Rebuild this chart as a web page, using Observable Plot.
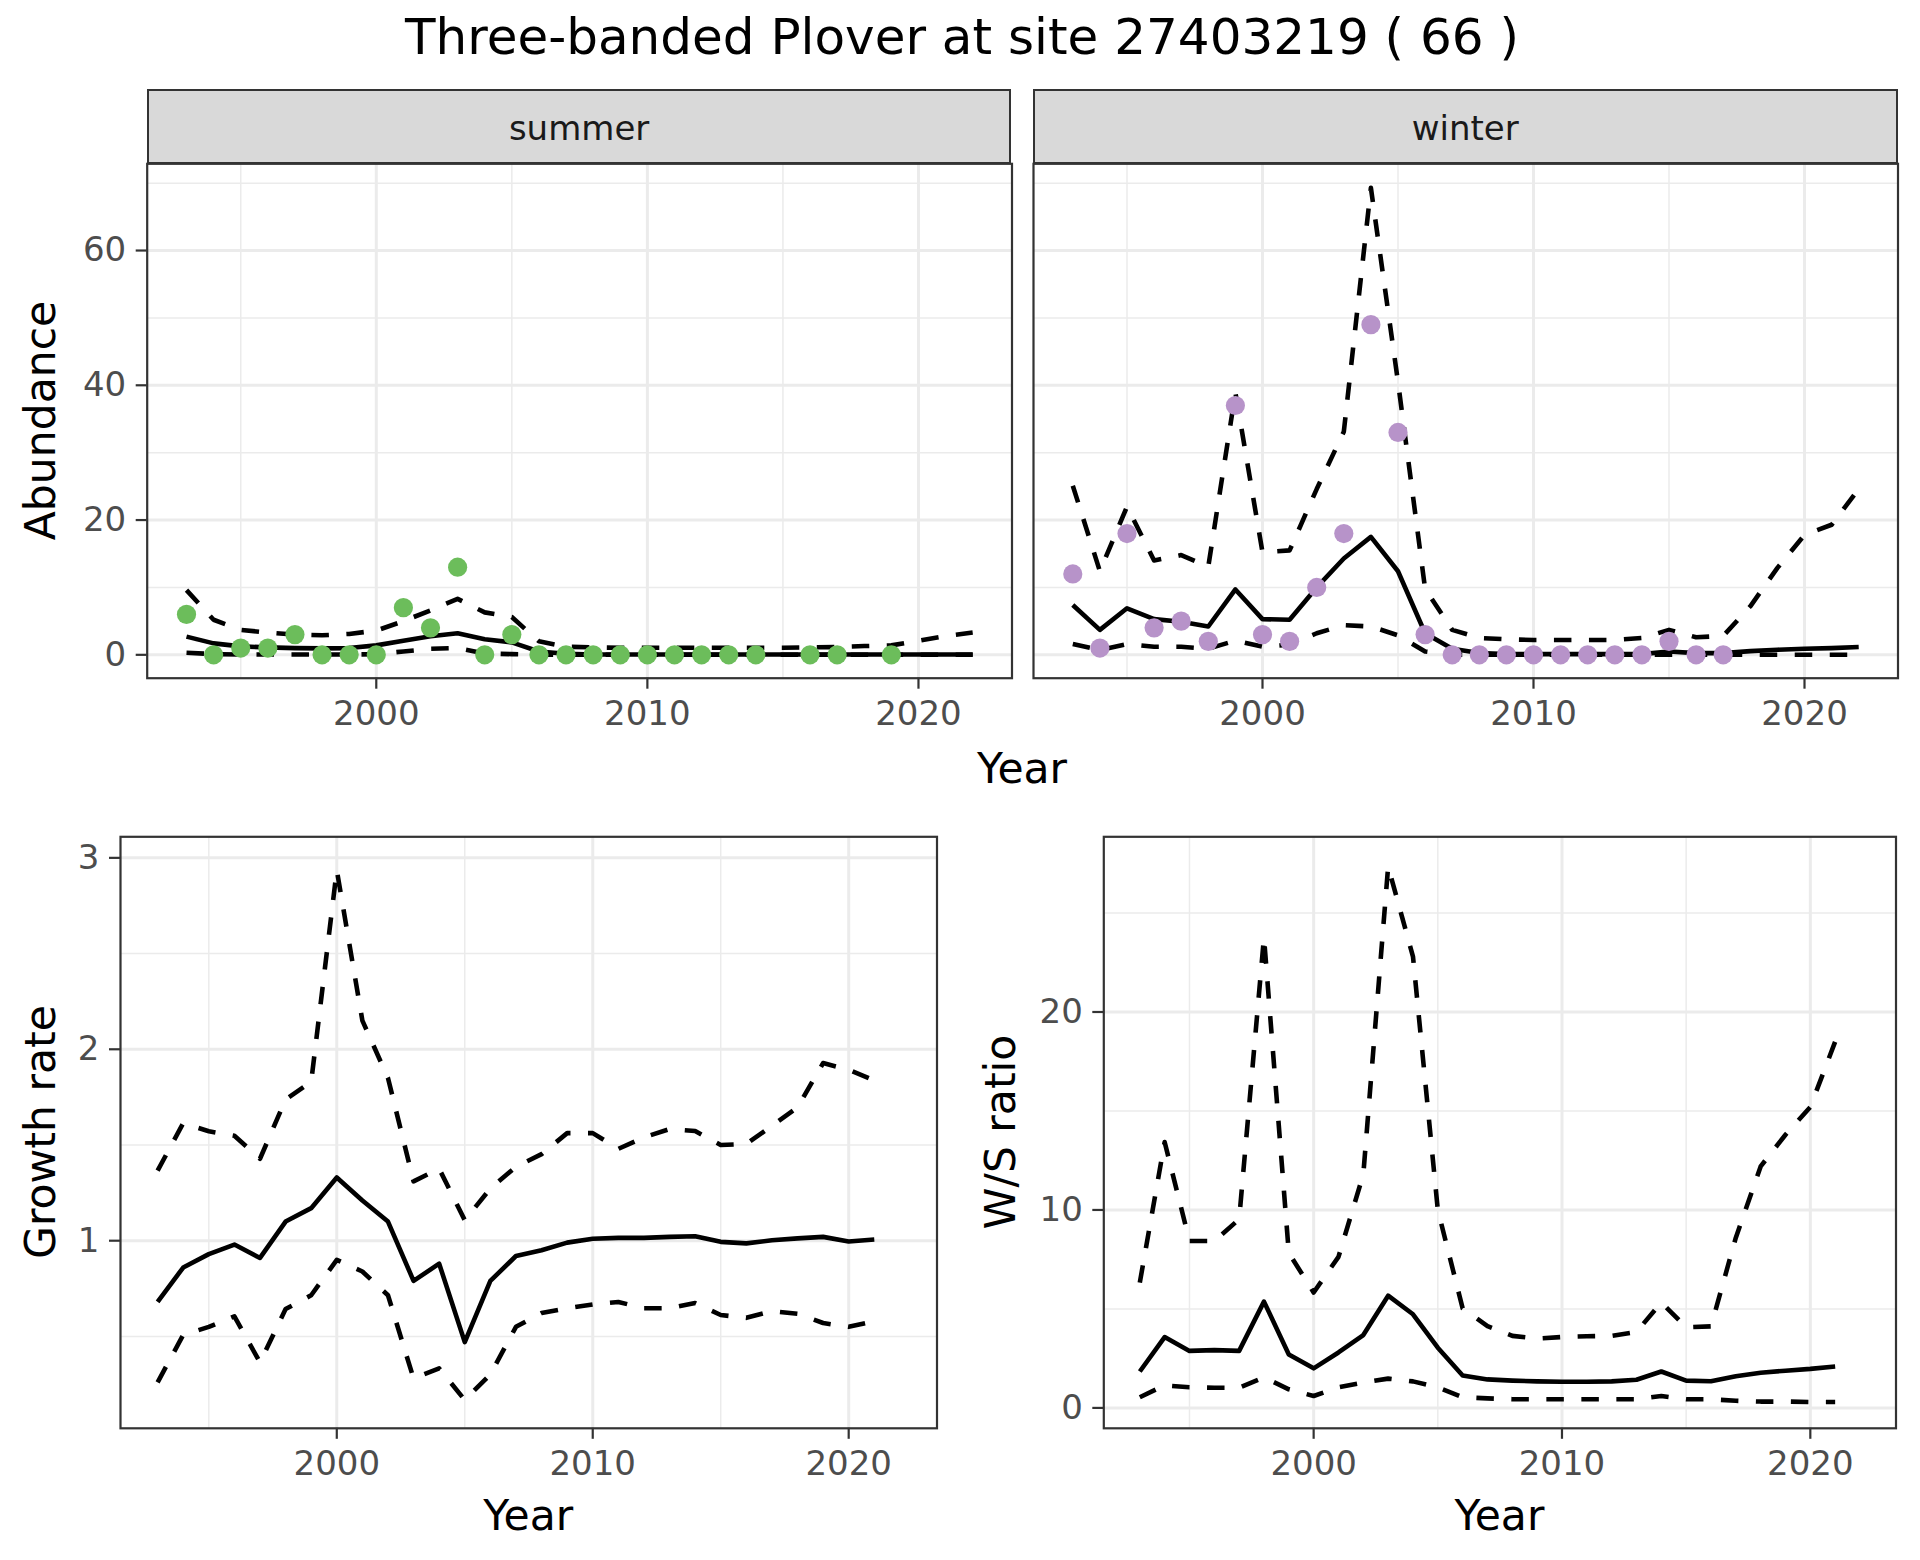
<!DOCTYPE html>
<html>
<head>
<meta charset="utf-8">
<script src="https://cdn.jsdelivr.net/npm/d3@7"></script>
<script src="https://cdn.jsdelivr.net/npm/@observablehq/plot@0.6"></script>
<style>
  html, body { margin: 0; padding: 0; background: #ffffff; }
  #root { position: relative; width: 1920px; height: 1560px; background: #ffffff; overflow: hidden; font-family: "DejaVu Sans", sans-serif; }
  .abs { position: absolute; left: 0; top: 0; }
  .txt { position: absolute; left: 0; top: 0; white-space: nowrap; line-height: 1; transform-origin: 0 0; font-family: "DejaVu Sans", sans-serif; }
  .strip { position: absolute; box-sizing: border-box; background: #D9D9D9; border: 2.2px solid #333333; }
</style>
</head>
<body>
<div id="root"></div>
<script>
// ---------------- data ----------------
const years = [1993,1994,1995,1996,1997,1998,1999,2000,2001,2002,2003,2004,2005,2006,2007,2008,2009,2010,2011,2012,2013,2014,2015,2016,2017,2018,2019,2020,2021,2022];
const ratioYears = [1993,1994,1995,1996,1997,1998,1999,2000,2001,2002,2003,2004,2005,2006,2007,2008,2009,2010,2011,2012,2013,2014,2015,2016,2017,2018,2019,2020,2021];

// Abundance, summer
const summerCounts = [6,0,1,1,3,0,0,0,7,4,13,0,3,0,0,0,0,0,0,0,0,0,null,0,0,null,0,null,null,null];
const summerMid    = [2.7,1.7,1.25,1.1,1.0,0.95,1.0,1.4,2.1,2.75,3.2,2.3,1.85,0.5,0.15,0.05,0.05,0.05,0.05,0.05,0.05,0.05,0.05,0.05,0.05,0.05,0.05,0.05,0.05,0.05];
const summerUpper  = [9.6,5.2,3.7,3.3,3.0,2.9,3.1,3.6,5.0,6.6,8.3,6.3,5.6,2.0,1.2,1.1,1.05,1.05,1.05,1.05,1.05,1.05,1.05,1.1,1.15,1.3,1.4,2.1,2.8,3.3];
const summerLower  = [0.3,0.1,0.05,0.05,0.05,0.05,0.05,0.1,0.5,0.9,1.0,0.2,0.1,0.02,0,0,0,0,0,0,0,0,0,0,0,0,0,0,0,0];

// Abundance, winter
const winterCounts = [12,1,18,4,5,2,37,3,2,10,18,49,33,3,0,0,0,0,0,0,0,0,2,0,0,null,null,null,null,null];
const winterMid    = [7.4,3.7,6.9,5.3,4.9,4.2,9.7,5.3,5.2,10.0,14.3,17.5,12.4,3.2,0.9,0.26,0.1,0.1,0.1,0.1,0.1,0.1,0.5,0.25,0.25,0.55,0.75,0.9,1.0,1.15];
const winterUpper  = [25.1,12.4,22.0,14.0,14.8,13.1,38.9,15.2,15.5,24.6,33.1,69.3,40.5,9.8,3.7,2.5,2.3,2.2,2.2,2.2,2.2,2.5,3.7,2.6,2.8,7.2,12.9,17.8,19.3,24.6];
const winterLower  = [1.6,0.7,1.6,1.2,1.2,0.9,2.1,1.2,1.5,3.2,4.4,4.2,2.9,0.5,0,0,0,0,0,0,0,0,0,0,0,0,0,0,0,0];

// Growth rate
const growthMid   = [0.68,0.86,0.93,0.98,0.91,1.10,1.17,1.33,1.21,1.10,0.79,0.88,0.47,0.79,0.92,0.95,0.99,1.01,1.015,1.015,1.02,1.023,0.994,0.986,1.002,1.012,1.02,0.996,1.006];
const growthUpper = [1.366,1.614,1.572,1.548,1.428,1.738,1.83,2.936,2.15,1.85,1.31,1.376,1.107,1.273,1.386,1.452,1.562,1.562,1.48,1.54,1.583,1.573,1.50,1.505,1.60,1.696,1.928,1.893,1.837];
const growthLower = [0.26,0.508,0.55,0.605,0.364,0.643,0.715,0.90,0.839,0.715,0.28,0.333,0.168,0.302,0.55,0.622,0.647,0.667,0.68,0.647,0.647,0.674,0.612,0.597,0.632,0.618,0.57,0.55,0.58];

// W/S ratio
const ratioMid   = [1.84,3.58,2.88,2.92,2.88,5.37,2.70,2.0,2.8,3.68,5.67,4.73,3.04,1.64,1.44,1.38,1.34,1.32,1.32,1.34,1.42,1.84,1.38,1.35,1.6,1.78,1.88,1.97,2.09];
const ratioUpper = [6.33,13.43,8.43,8.43,9.53,23.78,7.83,5.83,7.63,11.8,27.35,22.8,10.0,5.03,4.13,3.64,3.5,3.58,3.62,3.64,3.84,5.33,4.07,4.12,8.6,12.2,13.8,15.2,18.5];
const ratioLower = [0.54,1.14,1.04,1.02,1.02,1.54,0.94,0.6,1.04,1.28,1.48,1.34,1.04,0.54,0.48,0.44,0.44,0.44,0.44,0.44,0.44,0.6,0.44,0.44,0.36,0.32,0.32,0.3,0.3];

// ticks / breaks
const xMajor = [2000, 2010, 2020];
const xMinor = [1995, 2005, 2015];
const abundMajor = [0, 20, 40, 60];
const abundMinor = [10, 30, 50, 70];
const growthMajor = [1, 2, 3];
const growthMinor = [0.5, 1.5, 2.5];
const ratioMajor = [0, 10, 20];
const ratioMinor = [5, 15, 25];

const seasonNames = ["summer", "winter"];
const titleText = "Three-banded Plover at site 27403219 ( 66 )";

// ---------------- helpers ----------------
const root = document.getElementById("root");
const FONT = "DejaVu Sans";
const rows = (xs, ys) => xs.map((year, i) => ({year, value: ys[i]}));

function addText(str, {x, baseline, size, color = "#000000", rotate = false}) {
  const d = document.createElement("div");
  d.className = "txt";
  d.textContent = str;
  d.style.fontSize = size + "px";
  d.style.color = color;
  d.style.transform = `translate(${x}px, ${baseline}px)` + (rotate ? " rotate(-90deg)" : "") + " translate(-50%, -0.846em)";
  root.appendChild(d);
}

function addStrip(label, x0, x1, y0, y1) {
  const s = document.createElement("div");
  s.className = "strip";
  s.style.left = x0 + "px"; s.style.top = y0 + "px";
  s.style.width = (x1 - x0) + "px"; s.style.height = (y1 - y0) + "px";
  root.appendChild(s);
  addText(label, {x: (x0 + x1) / 2, baseline: 139.5, size: 34, color: "#1A1A1A"});
}

const xDomain = [1991.55, 2023.45];
const LW = 4.6, DASH = "17.5,17.5";

function seriesMarks(xs, mid, upper, lower, counts, color) {
  const m = [
    Plot.line(rows(xs, upper), {x: "year", y: "value", stroke: "#000", strokeWidth: LW, strokeDasharray: DASH, strokeLinecap: "butt", strokeLinejoin: "round"}),
    Plot.line(rows(xs, lower), {x: "year", y: "value", stroke: "#000", strokeWidth: LW, strokeDasharray: DASH, strokeLinecap: "butt", strokeLinejoin: "round"}),
    Plot.line(rows(xs, mid), {x: "year", y: "value", stroke: "#000", strokeWidth: LW, strokeLinecap: "butt", strokeLinejoin: "round"})
  ];
  if (counts) {
    m.push(Plot.dot(rows(xs, counts).filter(d => d.value != null), {x: "year", y: "value", r: 9.6, fill: color, stroke: "none"}));
  }
  return m;
}

function panel({x0, x1, y0, y1, sl, st, sr, sb, yDomain, yMajor, yMinor, showY, marks}) {
  const axisOpts = {tickSize: 11, stroke: "#333333", strokeWidth: 2.2, fill: "#4D4D4D", label: null};
  const chart = Plot.plot({
    width: sr - sl,
    height: sb - st,
    marginLeft: x0 - sl,
    marginRight: sr - x1,
    marginTop: y0 - st,
    marginBottom: sb - y1,
    x: {domain: xDomain},
    y: {domain: yDomain, axis: showY ? undefined : null},
    style: {fontFamily: FONT, fontSize: "34px", background: "transparent", overflow: "visible"},
    marks: [
      Plot.ruleY(yMinor, {stroke: "#EBEBEB", strokeWidth: 1.5}),
      Plot.ruleX(xMinor, {stroke: "#EBEBEB", strokeWidth: 1.5}),
      Plot.ruleY(yMajor, {stroke: "#EBEBEB", strokeWidth: 3}),
      Plot.ruleX(xMajor, {stroke: "#EBEBEB", strokeWidth: 3}),
      ...marks,
      Plot.frame({stroke: "#333333", strokeWidth: 2.2}),
      Plot.axisX({...axisOpts, ticks: xMajor, tickFormat: d => String(d), tickPadding: 11.5}),
      showY ? Plot.axisY({...axisOpts, ticks: yMajor, tickFormat: d => String(d), tickPadding: 10}) : null
    ].filter(Boolean)
  });
  const wrap = document.createElement("div");
  wrap.className = "abs";
  wrap.style.left = sl + "px";
  wrap.style.top = st + "px";
  wrap.appendChild(chart);
  root.appendChild(wrap);
}

// ---------------- layout ----------------
addText(titleText, {x: 962, baseline: 54, size: 50});

const topRow = {y0: 163.3, y1: 677.7};
const summerBox = {x0: 146.7, x1: 1011.5};
const winterBox = {x0: 1033, x1: 1897.5};
const abundDomain = [-3.47, 72.87];

panel({...summerBox, ...topRow, sl: 0, st: 150, sr: 1020, sb: 740,
  yDomain: abundDomain, yMajor: abundMajor, yMinor: abundMinor, showY: true,
  marks: seriesMarks(years, summerMid, summerUpper, summerLower, summerCounts, "#6CBD5B")});
panel({...winterBox, ...topRow, sl: 1025, st: 150, sr: 1910, sb: 740,
  yDomain: abundDomain, yMajor: abundMajor, yMinor: abundMinor, showY: false,
  marks: seriesMarks(years, winterMid, winterUpper, winterLower, winterCounts, "#B793C9")});

addStrip(seasonNames[0], summerBox.x0, summerBox.x1, 89.3, topRow.y0 + 1);
addStrip(seasonNames[1], winterBox.x0, winterBox.x1, 89.3, topRow.y0 + 1);

addText("Abundance", {x: 56, baseline: (topRow.y0 + topRow.y1) / 2, size: 42.5, rotate: true});
addText("Year", {x: (summerBox.x0 + winterBox.x1) / 2, baseline: 784, size: 42.5});

const botRow = {y0: 836.3, y1: 1427.8};
const growthBox = {x0: 120, x1: 936.5};
const ratioBox = {x0: 1103.3, x1: 1895.5};

panel({...growthBox, ...botRow, sl: 0, st: 820, sr: 950, sb: 1500,
  yDomain: [0.02, 3.11], yMajor: growthMajor, yMinor: growthMinor, showY: true,
  marks: seriesMarks(ratioYears, growthMid, growthUpper, growthLower, null)});
panel({...ratioBox, ...botRow, sl: 960, st: 820, sr: 1915, sb: 1500,
  yDomain: [-1.03, 28.85], yMajor: ratioMajor, yMinor: ratioMinor, showY: true,
  marks: seriesMarks(ratioYears, ratioMid, ratioUpper, ratioLower, null)});

addText("Growth rate", {x: 56, baseline: (botRow.y0 + botRow.y1) / 2, size: 42.5, rotate: true});
addText("W/S ratio", {x: 1016, baseline: (botRow.y0 + botRow.y1) / 2, size: 42.5, rotate: true});
addText("Year", {x: (growthBox.x0 + growthBox.x1) / 2, baseline: 1531, size: 42.5});
addText("Year", {x: (ratioBox.x0 + ratioBox.x1) / 2, baseline: 1531, size: 42.5});
</script>
</body>
</html>
